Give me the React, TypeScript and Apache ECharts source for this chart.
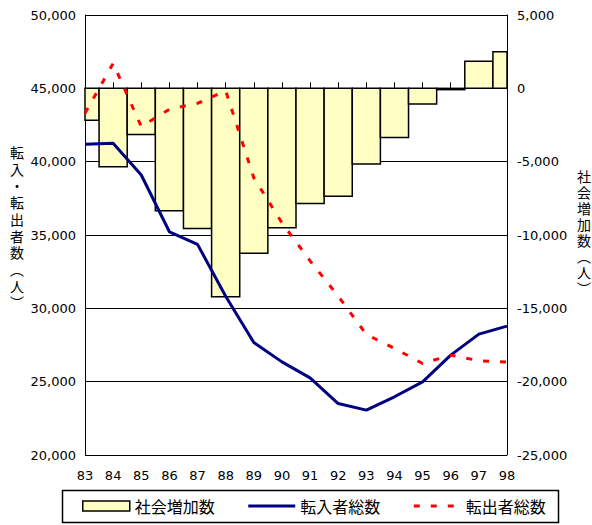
import React, { useEffect, useRef } from "react";
import * as echarts from "echarts";

// 年度（西暦下2桁）
const years = ["83", "84", "85", "86", "87", "88", "89", "90", "91", "92", "93", "94", "95", "96", "97", "98"];

// 社会増加数（人）— 右軸
const socialIncrease = [-2180, -5340, -3140, -8340, -9550, -14210, -11250, -9500, -7860, -7360, -5160, -3360, -1070, -90, 1840, 2500];

// 転入者総数（人）— 左軸
const moveIns = [41180, 41250, 39090, 35220, 34360, 30830, 27670, 26350, 25260, 23510, 23060, 23970, 24990, 26810, 28240, 28790];

// 転出者総数（人）— 左軸
const moveOuts = [43300, 46700, 42400, 43570, 43980, 44840, 38900, 35830, 33240, 30830, 28220, 27270, 26240, 26810, 26430, 26330];

const seriesNames = ["社会増加数", "転入者総数", "転出者総数"];
const leftAxisTitle = ["転", "入", "・", "転", "出", "者", "数", "︵", "人", "︶"];
const rightAxisTitle = ["社", "会", "増", "加", "数", "︵", "人", "︶"];

const NUM_FONT = "DejaVu Sans";
const JP_FONT = "Noto Sans CJK JP";

const fmt = (v: number) => v.toLocaleString("en-US");

// vertical axis title: one text element per character
function verticalTitle(chars: string[], cx: number, top: number, pitch: number) {
  return chars.map((ch, i) => ({
    type: "text",
    x: cx,
    y: top + i * pitch,
    silent: true,
    style: {
      text: ch,
      font: `14px "Liberation Sans", "${JP_FONT}"`,
      fill: "#000",
      align: "center",
      verticalAlign: "top",
    },
  }));
}

export default function App() {
  const ref = useRef<HTMLDivElement>(null);

  useEffect(() => {
    if (!ref.current) return;
    const chart = echarts.init(ref.current, undefined, { renderer: "svg" });

    const axisLine = { show: true, lineStyle: { color: "#000", width: 1 } };
    const numLabel = { color: "#000", fontSize: 13, fontFamily: NUM_FONT };

    // bars centred on each year, full band wide, clipped to the plot area
    const renderBar = (params: any, api: any) => {
      const xi = api.value(0);
      const v = api.value(1);
      const base = api.coord([xi, 0]);
      const top = api.coord([xi, v]);
      const w = api.size([1, 0])[0];
      const cs = params.coordSys;
      const rect = echarts.graphic.clipRectByRect(
        {
          x: base[0] - w / 2,
          y: Math.min(base[1], top[1]),
          width: w,
          height: Math.max(Math.abs(top[1] - base[1]), 0.5),
        },
        { x: cs.x, y: cs.y, width: cs.width, height: cs.height }
      );
      if (!rect) return null;
      return {
        type: "rect",
        shape: rect,
        style: { fill: "#FFFFC4", stroke: "#000", lineWidth: 1.5 },
      };
    };

    chart.setOption({
      animation: false,
      backgroundColor: "#fff",
      grid: { left: 85, top: 15, width: 422, height: 440, containLabel: false },
      xAxis: {
        type: "category",
        data: years,
        boundaryGap: false,
        axisLine,
        axisTick: { show: true, inside: true, length: 6, interval: 0, lineStyle: { color: "#000" } },
        axisLabel: { ...numLabel, margin: 14, interval: 0 },
        splitLine: { show: false },
      },
      yAxis: [
        {
          type: "value",
          position: "left",
          min: 20000,
          max: 50000,
          interval: 5000,
          axisLine,
          axisTick: { show: true, inside: true, length: 5, lineStyle: { color: "#000" } },
          axisLabel: { ...numLabel, margin: 9, formatter: fmt },
          splitLine: { show: true, lineStyle: { color: "#000", width: 1 } },
        },
        {
          type: "value",
          position: "right",
          min: -25000,
          max: 5000,
          interval: 5000,
          axisLine,
          axisTick: { show: true, inside: true, length: 5, lineStyle: { color: "#000" } },
          axisLabel: { ...numLabel, margin: 10, formatter: fmt },
          splitLine: { show: false },
        },
      ],
      legend: {
        left: 82,
        top: 498,
        itemWidth: 47,
        itemHeight: 10,
        itemGap: 32,
        padding: 0,
        textStyle: { color: "#000", fontSize: 16, fontFamily: JP_FONT },
        data: [
          { name: seriesNames[0], icon: "rect", itemStyle: { color: "#FFFFC4", borderColor: "#000", borderWidth: 1.5 } },
          { name: seriesNames[1], itemStyle: { opacity: 0 }, lineStyle: { width: 3 } },
          { name: seriesNames[2], itemStyle: { opacity: 0 }, lineStyle: { width: 3 } },
        ],
      },
      series: [
        {
          name: seriesNames[0],
          type: "custom",
          yAxisIndex: 1,
          data: socialIncrease.map((v, i) => [i, v]),
          renderItem: renderBar,
          itemStyle: { color: "#FFFFC4", borderColor: "#000", borderWidth: 1.5 },
          encode: { x: 0, y: 1 },
          z: 1,
        },
        {
          name: seriesNames[1],
          type: "line",
          yAxisIndex: 0,
          data: moveIns,
          symbol: "none",
          lineStyle: { color: "#000080", width: 3 },
          itemStyle: { color: "#000080" },
          z: 3,
        },
        {
          name: seriesNames[2],
          type: "line",
          yAxisIndex: 0,
          data: moveOuts,
          symbol: "none",
          lineStyle: { color: "#FF0000", width: 3, type: [6, 11] },
          itemStyle: { color: "#FF0000" },
          z: 4,
        },
      ],
      graphic: [
        {
          type: "rect",
          shape: { x: 62.5, y: 490.5, width: 496, height: 32 },
          style: { fill: "none", stroke: "#000", lineWidth: 1.5 },
          silent: true,
        },
        ...verticalTitle(leftAxisTitle, 17, 146, 16.7),
        ...verticalTitle(rightAxisTitle, 584, 170, 16),
      ],
    });

    return () => chart.dispose();
  }, []);

  return (
    <div
      ref={ref}
      style={{ position: "fixed", left: 0, top: 0, width: 592, height: 525, background: "#fff" }}
    />
  );
}
